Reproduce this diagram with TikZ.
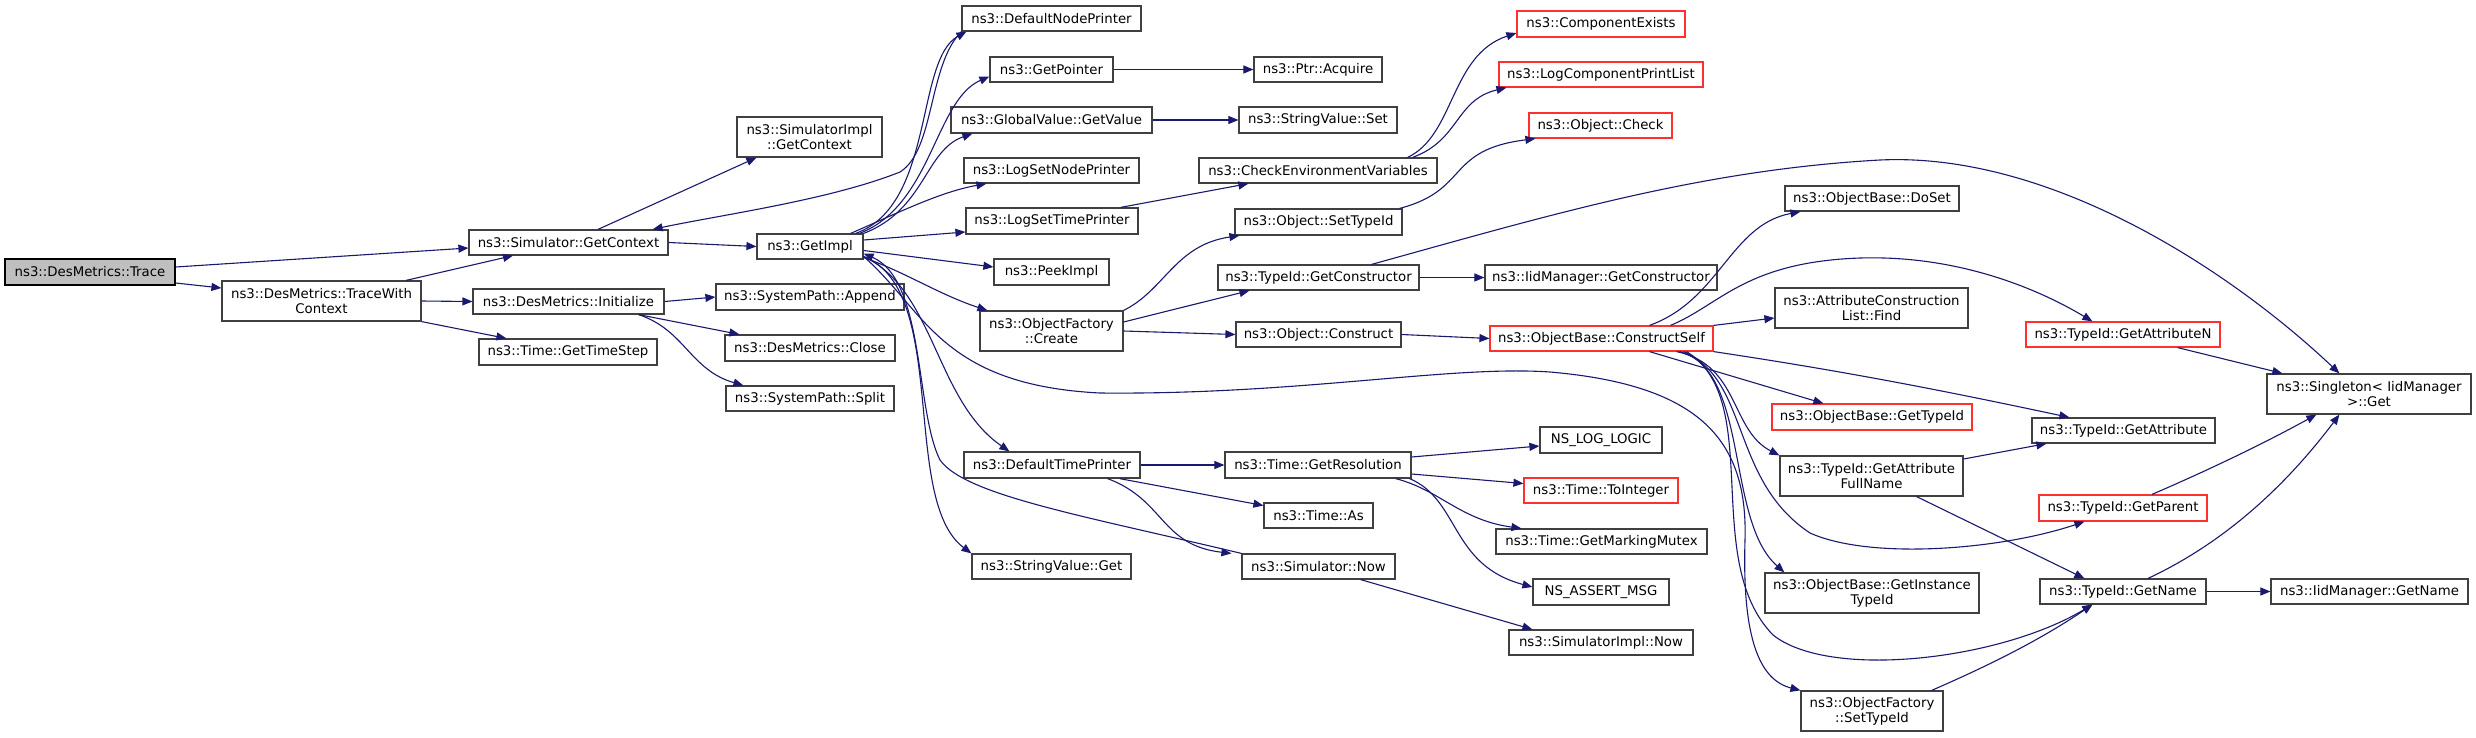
\documentclass[tikz,border=0pt]{standalone}
\usepackage{fontspec}
\setmainfont{DejaVu Sans}
\usetikzlibrary{arrows.meta}
\definecolor{edgec}{HTML}{191970}
\definecolor{boxc}{HTML}{404040}
\definecolor{redc}{HTML}{FF3030}
\definecolor{graybg}{HTML}{BFBFBF}
\begin{document}
\begin{tikzpicture}[x=1pt,y=-1pt,
  box/.style={draw=boxc, line width=1.2pt, fill=white, inner sep=0pt, align=center, font=\fontsize{13.3}{15}\selectfont},
  redbox/.style={box, draw=redc},
  rootbox/.style={box, draw=black, fill=graybg},
  edge/.style={draw=edgec, line width=1.1pt, -{Triangle[length=10pt,width=8pt]}}]
\useasboundingbox[fill=white] (0,0) rectangle (2476,737);
% column 1-2
\node[rootbox, minimum width=170pt, minimum height=26pt] (trace) at (90,272) {ns3::DesMetrics::Trace};
\node[box, minimum width=199pt, minimum height=40pt] (twc) at (321.5,301) {ns3::DesMetrics::TraceWith\\Context};
% column 3
\node[box, minimum width=199pt, minimum height=25pt] (getctx) at (568.5,242.5) {ns3::Simulator::GetContext};
\node[box, minimum width=191pt, minimum height=25pt] (init) at (568.5,301.5) {ns3::DesMetrics::Initialize};
\node[box, minimum width=178pt, minimum height=26pt] (timestep) at (568,352) {ns3::Time::GetTimeStep};
% column 4
\node[box, minimum width=145pt, minimum height=40pt] (simimplctx) at (809.5,137) {ns3::SimulatorImpl\\::GetContext};
\node[box, minimum width=106pt, minimum height=25pt] (getimpl) at (810,246.5) {ns3::GetImpl};
\node[box, minimum width=188pt, minimum height=26pt] (append) at (810,297) {ns3::SystemPath::Append};
\node[box, minimum width=170pt, minimum height=26pt] (close) at (810,348) {ns3::DesMetrics::Close};
\node[box, minimum width=168pt, minimum height=25pt] (split) at (810,398.5) {ns3::SystemPath::Split};
% column 5
\node[box, minimum width=179pt, minimum height=25pt] (defnode) at (1051.5,18.5) {ns3::DefaultNodePrinter};
\node[box, minimum width=123pt, minimum height=25pt] (getpointer) at (1051.5,69.5) {ns3::GetPointer};
\node[box, minimum width=201pt, minimum height=26pt] (gvgetvalue) at (1051.5,120) {ns3::GlobalValue::GetValue};
\node[box, minimum width=175pt, minimum height=25pt] (logsetnode) at (1051.5,170.5) {ns3::LogSetNodePrinter};
\node[box, minimum width=172pt, minimum height=26pt] (logsettime) at (1052,221) {ns3::LogSetTimePrinter};
\node[box, minimum width=115pt, minimum height=26pt] (peekimpl) at (1051.5,272) {ns3::PeekImpl};
\node[box, minimum width=143pt, minimum height=40pt] (ofcreate) at (1051.5,331) {ns3::ObjectFactory\\::Create};
\node[box, minimum width=176pt, minimum height=26pt] (deftime) at (1052,465) {ns3::DefaultTimePrinter};
\node[box, minimum width=159pt, minimum height=25pt] (svget) at (1051.5,566.5) {ns3::StringValue::Get};
% column 6
\node[box, minimum width=128pt, minimum height=25pt] (acquire) at (1318,69.5) {ns3::Ptr::Acquire};
\node[box, minimum width=158pt, minimum height=26pt] (svset) at (1318,120) {ns3::StringValue::Set};
\node[box, minimum width=238pt, minimum height=25pt] (checkenv) at (1318,170.5) {ns3::CheckEnvironmentVariables};
\node[box, minimum width=167pt, minimum height=26pt] (settypeid) at (1318.5,222) {ns3::Object::SetTypeId};
\node[box, minimum width=201pt, minimum height=25pt] (getctor) at (1318.5,277.5) {ns3::TypeId::GetConstructor};
\node[box, minimum width=165pt, minimum height=25pt] (construct) at (1318.5,334.5) {ns3::Object::Construct};
\node[box, minimum width=186pt, minimum height=26pt] (getres) at (1318,465) {ns3::Time::GetResolution};
\node[box, minimum width=109pt, minimum height=25pt] (timeas) at (1318.5,515.5) {ns3::Time::As};
\node[box, minimum width=153pt, minimum height=25pt] (simnow) at (1318.5,566.5) {ns3::Simulator::Now};
% column 7
\node[redbox, minimum width=168pt, minimum height=26pt] (compexists) at (1601,24) {ns3::ComponentExists};
\node[redbox, minimum width=204pt, minimum height=25pt] (logcomp) at (1601,74.5) {ns3::LogComponentPrintList};
\node[redbox, minimum width=143pt, minimum height=25pt] (objcheck) at (1600.5,125.5) {ns3::Object::Check};
\node[box, minimum width=232pt, minimum height=25pt] (iidctor) at (1601,277.5) {ns3::IidManager::GetConstructor};
\node[redbox, minimum width=223pt, minimum height=25pt] (cself) at (1601.5,338.5) {ns3::ObjectBase::ConstructSelf};
\node[box, minimum width=122pt, minimum height=26pt] (nslog) at (1601,440) {NS\_LOG\_LOGIC};
\node[redbox, minimum width=154pt, minimum height=25pt] (toint) at (1601,490.5) {ns3::Time::ToInteger};
\node[box, minimum width=211pt, minimum height=25pt] (mutex) at (1601.5,541.5) {ns3::Time::GetMarkingMutex};
\node[box, minimum width=136pt, minimum height=26pt] (assert) at (1601,592) {NS\_ASSERT\_MSG};
\node[box, minimum width=184pt, minimum height=25pt] (simimplnow) at (1601,642.5) {ns3::SimulatorImpl::Now};
% column 8
\node[box, minimum width=174pt, minimum height=25pt] (doset) at (1872,198.5) {ns3::ObjectBase::DoSet};
\node[box, minimum width=193pt, minimum height=40pt] (acfind) at (1871.5,308) {ns3::AttributeConstruction\\List::Find};
\node[redbox, minimum width=200pt, minimum height=26pt] (obtypeid) at (1872,417) {ns3::ObjectBase::GetTypeId};
\node[box, minimum width=183pt, minimum height=40pt] (attrfull) at (1871.5,476) {ns3::TypeId::GetAttribute\\FullName};
\node[box, minimum width=214pt, minimum height=40pt] (instance) at (1872,593) {ns3::ObjectBase::GetInstance\\TypeId};
\node[box, minimum width=142pt, minimum height=40pt] (ofsettype) at (1872,711) {ns3::ObjectFactory\\::SetTypeId};
% column 9
\node[redbox, minimum width=194pt, minimum height=25pt] (getattrn) at (2123,334.5) {ns3::TypeId::GetAttributeN};
\node[box, minimum width=183pt, minimum height=25pt] (getattr) at (2123.5,430.5) {ns3::TypeId::GetAttribute};
\node[redbox, minimum width=168pt, minimum height=26pt] (getparent) at (2123,508) {ns3::TypeId::GetParent};
\node[box, minimum width=166pt, minimum height=25pt] (getname) at (2123,591.5) {ns3::TypeId::GetName};
% column 10
\node[box, minimum width=204pt, minimum height=40pt] (singleton) at (2369,394) {ns3::Singleton< IidManager\\>::Get};
\node[box, minimum width=197pt, minimum height=25pt] (iidgetname) at (2369.5,591.5) {ns3::IidManager::GetName};

% edges
\draw[edge] ([yshift=5pt]trace.east) -- ([yshift=-5.5pt]getctx.west);
\draw[edge] ([yshift=-11pt]trace.east) -- ([yshift=13pt]twc.west);
\draw[edge] ([xshift=84.5pt]twc.north) -- ([xshift=-55.5pt]getctx.south);
\draw[edge] (twc.east) -- (init.west);
\draw[edge] (twc.south east) -- ([xshift=28pt]timestep.north west);
\draw[edge] ([xshift=29.5pt]getctx.north) -- ([xshift=20pt]simimplctx.south west);
\draw[edge] (getctx.east) -- (getimpl.west);
\draw[edge] (defnode.south west) .. controls (928,65) and (935,150) .. (900,172) .. controls (830,200) and (720,215) .. ([xshift=-16pt]getctx.north east);
\draw[edge] ([xshift=-8pt]getimpl.north east) .. controls (935,205) and (915,60) .. ([xshift=5pt]defnode.south west);
\draw[edge] ([xshift=-4pt]getimpl.north east) .. controls (932,205) and (935,100) .. ([yshift=-7pt]getpointer.west);
\draw[edge] (getimpl.north east) .. controls (925,210) and (925,150) .. ([xshift=22pt]gvgetvalue.south west);
\draw[edge] ([xshift=-13pt]getimpl.north east) .. controls (900,212) and (940,192) .. ([xshift=23pt]logsetnode.south west);
\draw[edge] ([yshift=6.5pt]getimpl.east) -- ([yshift=-11pt]logsettime.west);
\draw[edge] ([yshift=-4pt]getimpl.east) -- ([yshift=5pt]peekimpl.west);
\draw[edge] ([yshift=-11pt]getimpl.east) .. controls (905,272) and (940,295) .. ([xshift=8pt]ofcreate.north west);
\draw[edge] (simnow.north west) .. controls (1080,515) and (965,495) .. (940,460) .. controls (915,410) and (925,280) .. ([yshift=-7pt]getimpl.east);
\draw[edge] ([yshift=-10pt]getimpl.east) .. controls (935,290) and (935,400) .. ([xshift=46pt]deftime.north west);
\draw[edge] ([yshift=-10pt]getimpl.east) .. controls (950,290) and (900,500) .. (svget.north west);
\draw[edge] ([yshift=-10pt]getimpl.east) .. controls (925,310) and (940,385) .. (1100,393) .. controls (1300,395) and (1450,365) .. (1550,372) .. controls (1700,385) and (1748,440) .. (1745,540) .. controls (1742,640) and (1760,680) .. (ofsettype.north west);
\draw[edge] (deftime.east) -- (getres.west);
\draw[edge] ([xshift=-21pt]deftime.south east) -- ([yshift=10pt]timeas.west);
\draw[edge] ([xshift=-33pt]deftime.south east) .. controls (1165,500) and (1160,545) .. ([xshift=-10pt]simnow.north west);
\draw[edge] ([xshift=-35pt]simnow.south east) -- ([xshift=24pt]simimplnow.north west);
\draw[edge] (init.east) -- (append.west);
\draw[edge] ([xshift=-26pt]init.south east) -- ([xshift=15pt]close.north west);
\draw[edge] ([xshift=-26pt]init.south east) .. controls (685,330) and (690,370) .. ([xshift=18pt]split.north west);
\draw[edge] (getpointer.east) -- (acquire.west);
\draw[edge] (gvgetvalue.east) -- (svset.west);
\draw[edge] ([xshift=-18pt]logsettime.north east) -- ([xshift=50pt]checkenv.south west);
\draw[edge] ([xshift=-30pt]checkenv.north east) .. controls (1455,135) and (1450,55) .. ([yshift=-9pt]compexists.west);
\draw[edge] ([xshift=-25pt]checkenv.north east) .. controls (1460,140) and (1455,100) .. ([xshift=8pt]logcomp.south west);
\draw[edge] ([xshift=-3pt]settypeid.north east) .. controls (1470,190) and (1445,150) .. ([xshift=7pt]objcheck.south west);
\draw[edge] (ofcreate.north east) .. controls (1165,290) and (1175,245) .. ([xshift=5pt]settypeid.south west);
\draw[edge] ([yshift=9pt]ofcreate.east) -- ([xshift=32pt]getctor.south west);
\draw[edge] (ofcreate.east) -- (construct.west);
\draw[edge] (getctor.east) -- (iidctor.west);
\draw[edge] ([xshift=-48pt]getctor.north east) .. controls (1550,215) and (1700,170) .. (1880,160) .. controls (2050,152) and (2230,270) .. ([xshift=73pt]singleton.north west);
\draw[edge] (construct.east) -- (cself.west);
\draw[edge] ([yshift=8pt]getres.east) -- ([yshift=-6pt]nslog.west);
\draw[edge] ([yshift=-9pt]getres.east) -- ([yshift=7pt]toint.west);
\draw[edge] ([xshift=-16pt]getres.south east) .. controls (1440,490) and (1460,520) .. ([xshift=26pt]mutex.north west);
\draw[edge] ([xshift=-2pt]getres.south east) .. controls (1460,500) and (1450,565) .. ([yshift=5pt]assert.west);
\draw[edge] ([xshift=48pt]cself.north) .. controls (1720,300) and (1730,225) .. ([xshift=16pt]doset.south west);
\draw[edge] ([xshift=69pt]cself.north) .. controls (1720,305) and (1745,262) .. (1860,258) .. controls (1960,255) and (2040,290) .. ([xshift=67pt]getattrn.north west);
\draw[edge] (cself.north east) -- ([yshift=-10pt]acfind.west);
\draw[edge] ([xshift=48pt]cself.south) -- ([xshift=52pt]obtypeid.north west);
\draw[edge] (cself.south east) .. controls (1850,372) and (1950,392) .. ([xshift=38pt]getattr.north west);
\draw[edge] ([xshift=75pt]cself.south) .. controls (1740,365) and (1730,430) .. (attrfull.north west);
\draw[edge] ([xshift=78pt]cself.south) .. controls (1750,370) and (1725,520) .. ([xshift=20pt]instance.north west);
\draw[edge] ([xshift=82pt]cself.south) .. controls (1750,380) and (1730,480) .. (1810,533) .. controls (1870,560) and (2000,550) .. ([xshift=46pt]getparent.south west);
\draw[edge] ([xshift=85pt]cself.south) .. controls (1765,400) and (1700,560) .. (1773,635) .. controls (1830,680) and (2000,660) .. ([xshift=53pt]getname.south west);
\draw[edge] ([xshift=-12pt]ofsettype.north east) .. controls (1990,665) and (2040,640) .. ([xshift=53pt]getname.south west);
\draw[edge] ([yshift=17pt]attrfull.east) -- ([xshift=15pt]getattr.south west);
\draw[edge] ([xshift=-47pt]attrfull.south east) -- ([xshift=45pt]getname.north west);
\draw[edge] ([xshift=-43pt]getattrn.south east) -- ([xshift=16pt]singleton.north west);
\draw[edge] ([xshift=29pt]getparent.north) .. controls (2220,465) and (2270,440) .. ([xshift=50pt]singleton.south west);
\draw[edge] ([xshift=25pt]getname.north) .. controls (2230,540) and (2290,480) .. ([xshift=73pt]singleton.south west);
\draw[edge] (getname.east) -- (iidgetname.west);
\end{tikzpicture}
\end{document}
